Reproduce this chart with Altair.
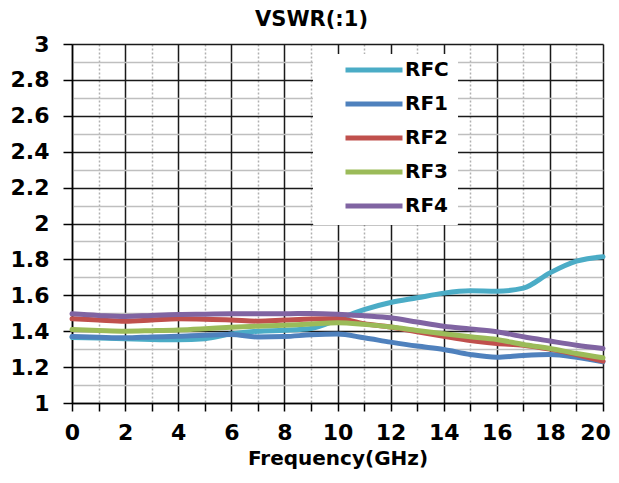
import altair as alt
import pandas as pd

freq = list(range(0, 21))
series_names = ["RFC", "RF1", "RF2", "RF3", "RF4"]
rfc = [1.365, 1.362, 1.358, 1.354, 1.352, 1.358, 1.385, 1.400, 1.405, 1.415, 1.465,
       1.520, 1.560, 1.586, 1.612, 1.625, 1.623, 1.640, 1.725, 1.790, 1.815]
rf1 = [1.370, 1.366, 1.363, 1.368, 1.372, 1.378, 1.381, 1.368, 1.370, 1.380, 1.384,
       1.363, 1.339, 1.317, 1.298, 1.270, 1.255, 1.265, 1.270, 1.255, 1.229]
rf2 = [1.469, 1.462, 1.456, 1.462, 1.469, 1.467, 1.463, 1.456, 1.462, 1.468, 1.471,
       1.441, 1.423, 1.397, 1.372, 1.348, 1.332, 1.322, 1.300, 1.270, 1.233]
rf3 = [1.409, 1.404, 1.400, 1.403, 1.407, 1.414, 1.422, 1.428, 1.433, 1.440, 1.447,
       1.438, 1.423, 1.404, 1.386, 1.369, 1.354, 1.326, 1.304, 1.276, 1.252]
rf4 = [1.497, 1.488, 1.482, 1.488, 1.493, 1.495, 1.497, 1.497, 1.497, 1.499, 1.495,
       1.486, 1.475, 1.451, 1.428, 1.413, 1.397, 1.369, 1.345, 1.322, 1.304]
colors = ["#4BACC6", "#4F81BD", "#C0504D", "#9BBB59", "#8064A2"]

x_ticks = list(range(0, 21))
y_ticks = [round(1 + 0.1 * i, 1) for i in range(21)]

rows = []
for name, vals in zip(series_names, [rfc, rf1, rf2, rf3, rf4]):
    for f, v in zip(freq, vals):
        rows.append({"freq": f, "vswr": v, "series": name})
df = pd.DataFrame(rows)

FONT = "DejaVu Sans"

x_enc = alt.X(
    "freq:Q",
    scale=alt.Scale(domain=[0, 20], nice=False),
    axis=alt.Axis(
        values=x_ticks,
        title="Frequency(GHz)",
        titleFont=FONT, titleFontSize=20, titleFontWeight="bold", titleColor="black",
        titlePadding=5,
        labelExpr="datum.value % 2 == 0 ? datum.label : ''",
        labelFont=FONT, labelFontSize=22, labelFontWeight="bold", labelColor="black",
        labelPadding=11, labelFlush=False,
        labelOffset={"condition": {"test": "datum.value == 20", "value": -8}, "value": 0},
        tickSize=8, tickColor="black", tickWidth=1.5,
        domainColor="black", domainWidth=1.5,
        grid=True,
        gridColor={"condition": {"test": "datum.value % 2 == 0", "value": "#1a1a1a"}, "value": "#b0b0b0"},
        gridDash={"condition": {"test": "datum.value % 2 == 0", "value": []}, "value": [2, 2]},
        gridWidth=1.5,
    ),
)

y_enc = alt.Y(
    "vswr:Q",
    scale=alt.Scale(domain=[1, 3], nice=False, zero=False),
    axis=alt.Axis(
        values=y_ticks,
        title=None,
        format="~g",
        labelExpr="round(datum.value * 10) % 2 == 0 ? datum.label : ''",
        labelFont=FONT, labelFontSize=22, labelFontWeight="bold", labelColor="black",
        labelPadding=14, labelFlush=False,
        tickSize=9, tickColor="black", tickWidth=1.5,
        tickOpacity={"condition": {"test": "round(datum.value * 10) % 2 == 0", "value": 1}, "value": 0},
        domainColor="black", domainWidth=1.5,
        grid=True,
        gridColor={"condition": {"test": "round(datum.value * 10) % 2 == 0", "value": "#1a1a1a"}, "value": "#bfbfbf"},
        gridWidth=1.5,
    ),
)

color_enc = alt.Color(
    "series:N",
    scale=alt.Scale(domain=series_names, range=colors),
    legend=alt.Legend(
        title=None,
        orient="none", legendX=241, legendY=10,
        fillColor="white", strokeColor="white",
        padding=8,
        symbolType="stroke", symbolSize=3249, symbolStrokeWidth=5,
        symbolOffset=22,
        clipHeight=16, rowPadding=14,
        labelOffset=0,
        labelFont=FONT, labelFontSize=20, labelFontWeight="bold", labelColor="black",
        labelExpr="datum.label + '\u00a0\u00a0\u00a0\u00a0\u00a0\u00a0'",
    ),
)

base = alt.Chart(df).mark_line(strokeWidth=5, strokeCap="round", interpolate="monotone").encode(
    x=x_enc, y=y_enc, color=color_enc
)

layers = [base.transform_filter(alt.datum.series == name) for name in series_names]

chart = alt.layer(*layers).properties(
    width=531,
    height=359,
    autosize=alt.AutoSizeParams(type="none"),
    padding={"left": 64, "top": 36, "right": 8, "bottom": 74},
    title=alt.TitleParams(
        "VSWR(:1)", font=FONT, fontSize=21, fontWeight="bold", color="black",
        anchor="middle", frame="bounds", offset=8, dy=5,
    ),
).configure_view(strokeOpacity=0)

chart.save("out.html", embed_options={"renderer": "svg", "actions": False})
